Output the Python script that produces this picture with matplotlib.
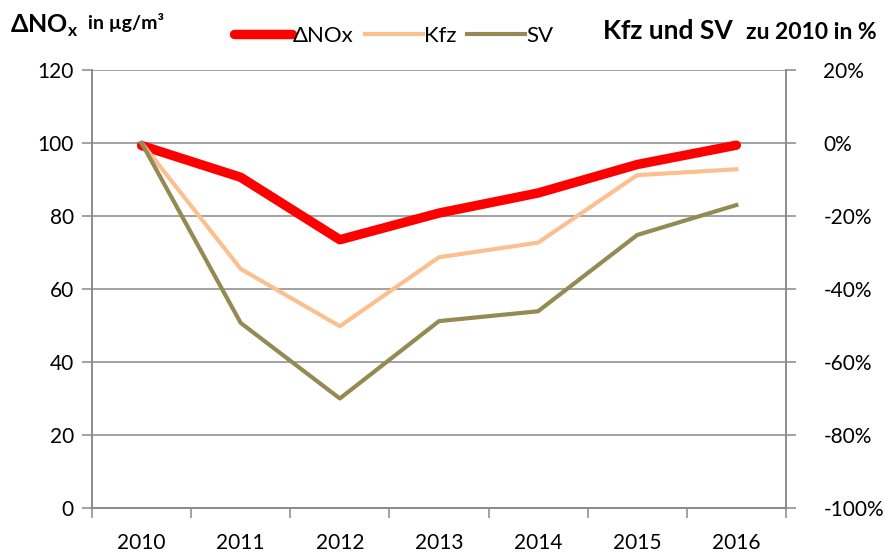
import matplotlib
matplotlib.use("Agg")
import matplotlib.pyplot as plt
from matplotlib.ticker import FuncFormatter

plt.rcParams['font.family'] = ['Lato', 'DejaVu Sans']

years = ['2010', '2011', '2012', '2013', '2014', '2015', '2016']
dnox = [99.3, 90.6, 73.5, 80.8, 86.3, 94.1, 99.4]
kfz = [0, -34.5, -50.2, -31.3, -27.3, -8.8, -7.2]
sv = [0, -49.3, -70.0, -48.8, -46.1, -25.2, -17.0]

fig = plt.figure(figsize=(8.85, 5.52), dpi=100)
ax = fig.add_axes([0.104, 0.0797, 0.784, 0.7935])
ax2 = ax.twinx()

grey = '#898989'
x = list(range(len(years)))
l1, = ax.plot(x, dnox, color='#ff0000', lw=6.8, solid_capstyle='round', zorder=3, label='ΔNOx')
l2, = ax2.plot(x, kfz, color='#fac090', lw=3, label='Kfz')
l3, = ax2.plot(x, sv, color='#948a54', lw=3, label='SV')

ax.set_xlim(-0.5, 6.5)
ax.set_ylim(0, 120)
ax2.set_ylim(-100, 20)
ax.set_yticks(range(0, 121, 20))
ax2.set_yticks(range(-100, 21, 20))
ax2.yaxis.set_major_formatter(FuncFormatter(lambda v, p: f"{int(v)}%"))
ax.yaxis.grid(True, color=grey, lw=1.1)
ax.set_axisbelow(True)
ax.set_xticks(x)
ax.set_xticklabels(years)
ax.set_xticks([i - 0.5 for i in range(len(years) + 1)], minor=True)
ax.tick_params(axis='x', which='major', length=0, pad=18, labelsize=15)
ax.tick_params(axis='x', which='minor', length=7, color=grey, width=1.1)
ax.tick_params(axis='y', length=7, color=grey, width=1.1, labelsize=15, pad=6)
ax2.tick_params(axis='y', length=7, color=grey, width=1.1, labelsize=15, pad=20)

for a in (ax, ax2):
    a.spines['top'].set_visible(False)
    for s in ['left', 'right', 'bottom']:
        a.spines[s].set_color(grey)
        a.spines[s].set_linewidth(1.1)

fig.text(0.011, 1 - 33 / 552, 'ΔNO$_\\mathregular{x}$', fontsize=18, fontweight='bold', va='baseline')
fig.text(0.099, 1 - 29 / 552, 'in µg/m³', fontsize=14, fontweight='bold', va='baseline')
fig.text(0.681, 1 - 39 / 552, 'Kfz und SV', fontsize=19, fontweight='bold', va='baseline')
fig.text(0.843, 1 - 39 / 552, 'zu 2010 in %', fontsize=16.5, fontweight='bold', va='baseline')

fig.legend(handles=[l1, l2, l3], loc='center', bbox_to_anchor=(0.445, 0.935), ncol=3,
           frameon=False, fontsize=16, handlelength=2.6, handletextpad=0.05, columnspacing=0.5)

fig.savefig('out.png', dpi=100)
